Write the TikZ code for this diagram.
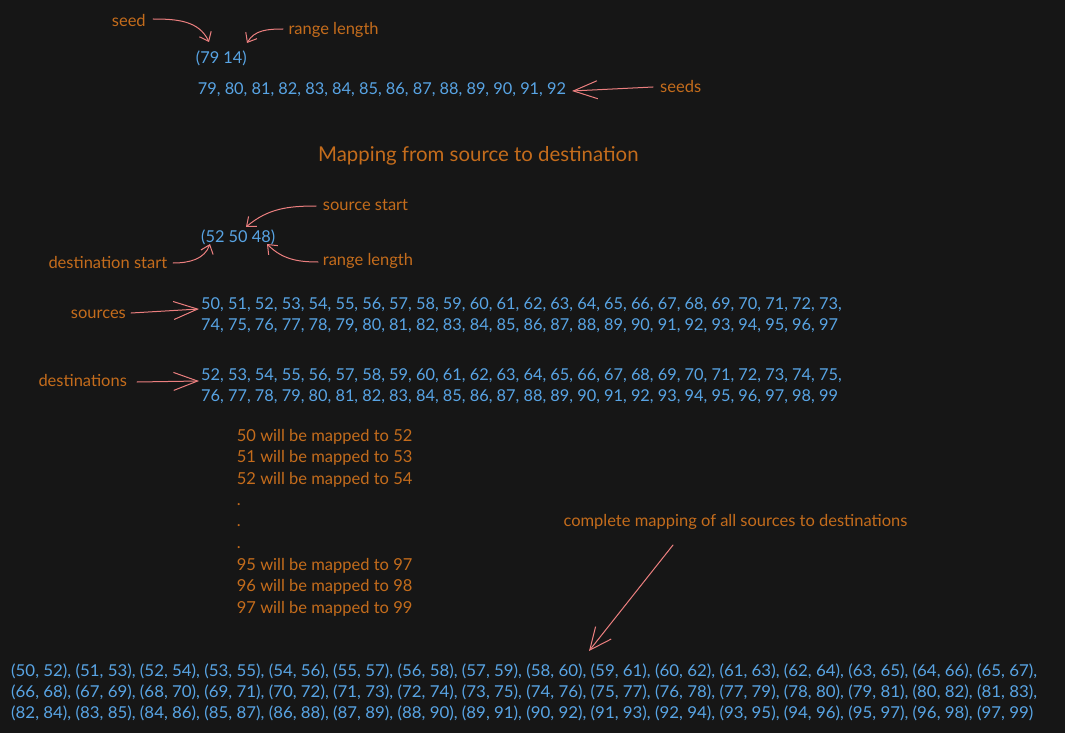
\documentclass[tikz,border=0pt]{standalone}
\usepackage{fontspec}
\setmainfont{Lato}
\usetikzlibrary{arrows.meta}
\definecolor{bg}{HTML}{161616}
\definecolor{orng}{HTML}{C46C1C}
\definecolor{blu}{HTML}{58A4E4}
\definecolor{pnk}{HTML}{EC7F7F}
\begin{document}
\begin{tikzpicture}[x=1pt,y=1pt,
  lbl/.style={text=orng, font=\fontsize{16.5}{20}\selectfont, inner sep=0pt, anchor=base west},
  val/.style={text=blu, font=\fontsize{16.35}{20}\selectfont, inner sep=0pt, anchor=base west},
  ttl/.style={text=orng, font=\fontsize{20.4}{24}\selectfont, inner sep=0pt, anchor=base west},
  arr/.style={draw=pnk, line width=1pt, line cap=round, -{Straight Barb[length=8pt,width=13pt,line width=1pt]}},
  bigarr/.style={draw=pnk, line width=1pt, line cap=round, -{Straight Barb[length=24pt,width=18pt,line width=1pt]}},
  midarr/.style={draw=pnk, line width=1pt, line cap=round, -{Straight Barb[length=22pt,width=20pt,line width=1pt]}}]
\fill[bg] (0,0) rectangle (1065,-733);
\useasboundingbox (0,0) rectangle (1065,-733);

% top part
\node[lbl] (seed) at (111.7,-26.7) {seed};
\node[lbl] (rl1) at (288.3,-34.3) {range length};
\node[val] (pair) at (195.7,-63.3) {(79 14)};
\node[val] (seedlist) at (197.7,-95) {79, 80, 81, 82, 83, 84, 85, 86, 87, 88, 89, 90, 91, 92};
\node[lbl] (seeds) at (660,-92.3) {seeds};

\node[ttl] (title) at (318,-161.7) {Mapping from source to destination};

\node[lbl] (srcstart) at (322.7,-210.7) {source start};
\node[val] (triple) at (201,-242.7) {(52 50 48)};
\node[lbl] (dststart) at (48.3,-268.7) {destination start};
\node[lbl] (rl2) at (322.7,-265) {range length};

\node[lbl] (sources) at (70.7,-318.3) {sources};
\node[val] (src1) at (201,-309) {50, 51, 52, 53, 54, 55, 56, 57, 58, 59, 60, 61, 62, 63, 64, 65, 66, 67, 68, 69, 70, 71, 72, 73,};
\node[val] (src2) at (201,-330.7) {74, 75, 76, 77, 78, 79, 80, 81, 82, 83, 84, 85, 86, 87, 88, 89, 90, 91, 92, 93, 94, 95, 96, 97};

\node[lbl] (dests) at (38.3,-386) {destinations};
\node[val] (dst1) at (201,-380) {52, 53, 54, 55, 56, 57, 58, 59, 60, 61, 62, 63, 64, 65, 66, 67, 68, 69, 70, 71, 72, 73, 74, 75,};
\node[val] (dst2) at (201,-401.7) {76, 77, 78, 79, 80, 81, 82, 83, 84, 85, 86, 87, 88, 89, 90, 91, 92, 93, 94, 95, 96, 97, 98, 99};

\node[lbl] (m1) at (236.7,-441.7) {50 will be mapped to 52};
\node[lbl] (m2) at (236.7,-462.3) {51 will be mapped to 53};
\node[lbl] (m3) at (236.7,-484) {52 will be mapped to 54};
\node[lbl] (d1) at (236.7,-505) {.};
\node[lbl] (d2) at (236.7,-526.7) {.};
\node[lbl] (d3) at (236.7,-548.3) {.};
\node[lbl] (m4) at (236.7,-570) {95 will be mapped to 97};
\node[lbl] (m5) at (236.7,-591.7) {96 will be mapped to 98};
\node[lbl] (m6) at (236.7,-613.3) {97 will be mapped to 99};

\node[lbl] (complete) at (563.3,-526) {complete mapping of all sources to destinations};

\node[val] (p1) at (11,-676) {\scalebox{1.031}[1]{(50, 52), (51, 53), (52, 54), (53, 55), (54, 56), (55, 57), (56, 58), (57, 59), (58, 60), (59, 61), (60, 62), (61, 63), (62, 64), (63, 65), (64, 66), (65, 67),}};
\node[val] (p2) at (11,-697.3) {\scalebox{1.031}[1]{(66, 68), (67, 69), (68, 70), (69, 71), (70, 72), (71, 73), (72, 74), (73, 75), (74, 76), (75, 77), (76, 78), (77, 79), (78, 80), (79, 81), (80, 82), (81, 83),}};
\node[val] (p3) at (11,-718.3) {\scalebox{1.031}[1]{(82, 84), (83, 85), (84, 86), (85, 87), (86, 88), (87, 89), (88, 90), (89, 91), (90, 92), (91, 93), (92, 94), (93, 95), (94, 96), (95, 97), (96, 98), (97, 99)}};

% arrow end points
\coordinate (a1s) at (153,-19);   \coordinate (a1e) at (209,-42);
\coordinate (a2s) at (283,-29);   \coordinate (a2e) at (247,-43);
\coordinate (a3s) at (653,-87);   \coordinate (a3e) at (572,-91);
\coordinate (a4s) at (316,-206);  \coordinate (a4e) at (246,-227);
\coordinate (a5s) at (173,-263);  \coordinate (a5e) at (210,-244);
\coordinate (a6s) at (318,-262);  \coordinate (a6e) at (267,-244);
\coordinate (a7s) at (131,-313);  \coordinate (a7e) at (199,-309);
\coordinate (a8s) at (137,-382);  \coordinate (a8e) at (199,-381);
\coordinate (a9s) at (673,-545);  \coordinate (a9e) at (589,-651);

\draw[arr] (a1s) to[out=0,in=115] (a1e);
\draw[arr] (a2s) to[out=180,in=60] (a2e);
\draw[bigarr] (a3s) -- (a3e);
\draw[arr] (a4s) to[out=180,in=40] (a4e);
\draw[arr] (a5s) to[out=0,in=-110] (a5e);
\draw[arr] (a6s) to[out=180,in=-45] (a6e);
\draw[bigarr] (a7s) -- (a7e);
\draw[bigarr] (a8s) -- (a8e);
\draw[midarr] (a9s) -- (a9e);
\end{tikzpicture}
\end{document}
